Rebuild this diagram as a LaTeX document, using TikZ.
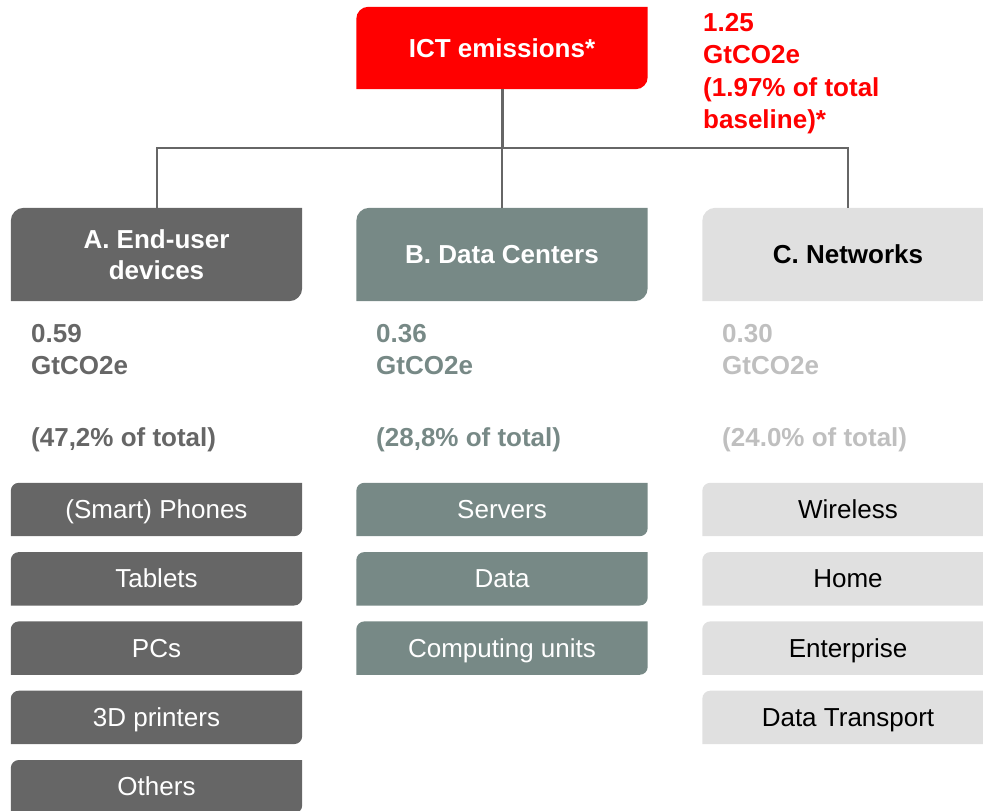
\documentclass[tikz,border=0pt]{standalone}
\usepackage{fontspec}
\setmainfont{Liberation Sans}
\usetikzlibrary{calc,backgrounds}

\definecolor{ictred}{HTML}{FF0000}
\definecolor{devgray}{HTML}{666666}
\definecolor{dcteal}{HTML}{778986}
\definecolor{netgray}{HTML}{E0E0E0}
\definecolor{netlabel}{HTML}{BFBFBF}
\definecolor{linegray}{HTML}{666666}

% box with rounded top-left and bottom-right corners, behind a node
\newcommand{\diagfill}[3]{%
  \fill[#2] ($(#1.north west)+(0,-#3)$) arc[start angle=180,end angle=90,radius=#3]
    -- (#1.north east) -- ($(#1.south east)+(0,#3)$) arc[start angle=0,end angle=-90,radius=#3]
    -- (#1.south west) -- cycle;}

\begin{document}
\begin{tikzpicture}[x=1pt,y=-1pt,
  every node/.style={inner sep=0pt,font=\fontsize{26}{32}\selectfont},
  head/.style={minimum width=291pt,minimum height=93pt,align=center,
    font=\bfseries\fontsize{26}{31}\selectfont},
  item/.style={minimum width=291pt,minimum height=53pt,text height=18pt,text depth=0pt},
  stat/.style={anchor=north west,align=left,font=\bfseries\fontsize{26}{32.5}\selectfont}]
\useasboundingbox (0,0) rectangle (983,811);
\clip (0,0) rectangle (983,811);

% top
\node[head,minimum height=82pt,text=white] (ict) at (502,48) {ICT emissions*};
\node[stat,text=ictred] (total) at (703,13) {1.25\\GtCO2e\\(1.97\% of total\\baseline)*};

% categories
\node[head,text=white] (enduser) at (156.5,254.5) {A. End-user\\devices};
\node[head,text=white] (datacen) at (502,254.5) {B. Data Centers};
\node[head] (netw) at (848,254.5) {C. Networks};

\node[stat,text=devgray] (enduserval) at (31,324) {0.59\\GtCO2e};
\node[stat,text=dcteal] (datacenval) at (376,324) {0.36\\GtCO2e};
\node[stat,text=netlabel] (netwval) at (722,324) {0.30\\GtCO2e};
\node[stat,anchor=base west,text=devgray] (enduserpct) at (31,446) {(47,2\% of total)};
\node[stat,anchor=base west,text=dcteal] (datacenpct) at (376,446) {(28,8\% of total)};
\node[stat,anchor=base west,text=netlabel] (netwpct) at (722,446) {(24.0\% of total)};

% sub items
\foreach \n/\t [count=\i from 0] in {phones/(Smart) Phones,tablets/Tablets,pcs/PCs,printers/3D printers,others/Others}
  \node[item,text=white] (\n) at (156.5,509.5+69.3*\i) {\t};
\foreach \n/\t [count=\i from 0] in {servers/Servers,data/Data,computing/Computing units}
  \node[item,text=white] (\n) at (502,509.5+69.3*\i) {\t};
\foreach \n/\t [count=\i from 0] in {wireless/Wireless,home/Home,enterprise/Enterprise,transport/Data Transport}
  \node[item] (\n) at (848,509.5+69.3*\i) {\t};

\begin{scope}[on background layer]
\diagfill{ict}{ictred}{12pt}
\diagfill{enduser}{devgray}{13pt}
\diagfill{datacen}{dcteal}{13pt}
\diagfill{netw}{netgray}{13pt}
\foreach \n in {phones,tablets,pcs,printers,others} {\diagfill{\n}{devgray}{8pt}}
\foreach \n in {servers,data,computing} {\diagfill{\n}{dcteal}{8pt}}
\foreach \n in {wireless,home,enterprise,transport} {\diagfill{\n}{netgray}{8pt}}
\end{scope}

% connectors
\coordinate (bus) at (502,148);
\draw[linegray,line width=3pt] (ict.south) -- (bus);
\draw[linegray,line width=2pt] (enduser.north) |- (bus) -| (netw.north);
\draw[linegray,line width=2pt] (datacen.north) -- (datacen.north |- bus);
\end{tikzpicture}
\end{document}
